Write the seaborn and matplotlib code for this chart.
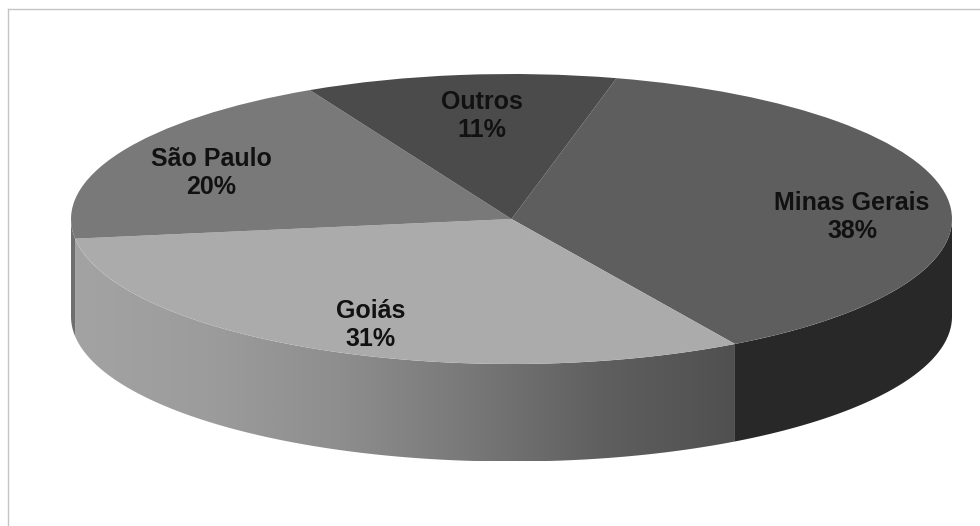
import numpy as np
import matplotlib
matplotlib.use("Agg")
import matplotlib.pyplot as plt
import seaborn as sns
from matplotlib.colors import LinearSegmentedColormap
from matplotlib.patches import Polygon

# Data
categories = ["Minas Gerais", "Goiás", "São Paulo", "Outros"]
shares = [37.7, 31.3, 19.6, 11.4]

# Style
top_colors = ["#5e5e5e", "#ababab", "#797979", "#4b4b4b"]
side_colors = ["#282828", None, "#6e6e6e", None]
front_ramp = ["#a3a3a3", "#9c9c9c", "#8e8e8e", "#787878", "#5f5f5f", "#505050"]
label_px = [(852, 217), (371, 325), (211, 173), (482, 116)]
W, H = 980, 526
CX, CY, RX, RY, DEPTH = 511.5, 219.0, 440.5, 145.0, 97.5
FRAME_X, FRAME_Y = 8.0, 9.0
START_FROM_TOP = 13.8

sns.set_theme(style="white")
plt.rcParams["font.family"] = ["Liberation Sans", "DejaVu Sans"]

fig = plt.figure(figsize=(W / 100, H / 100), dpi=100, facecolor="white")
ax = fig.add_axes([FRAME_X / W, 0, 1 - FRAME_X / W, 1 - FRAME_Y / H])

# Top surface
ax.pie(shares, colors=top_colors, startangle=90 - START_FROM_TOP,
       counterclock=False, radius=1, wedgeprops={"linewidth": 0})
ax.set_aspect("auto")
ax.set_frame_on(True)

depth = DEPTH / RY
edges = START_FROM_TOP + np.concatenate([[0], np.cumsum(shares)]) * 3.6


def wall(a, b):
    """Outline of the visible rim between two clockwise-from-top angles."""
    a, b = max(a, 90.0), min(b, 270.0)
    t = np.radians(np.linspace(a, b, 200))
    x, y = np.sin(t), np.cos(t)
    return np.column_stack([np.r_[x, x[::-1]], np.r_[y, y[::-1] - depth]])


cmap = LinearSegmentedColormap.from_list("front", front_ramp)
for i, cat in enumerate(categories):
    a, b = edges[i], edges[i + 1]
    if min(b, 270) <= max(a, 90):
        continue
    xy = wall(a, b)
    if side_colors[i] is not None:
        ax.add_patch(Polygon(xy, closed=True, facecolor=side_colors[i],
                             edgecolor="none", zorder=0.5))
    else:
        im = ax.imshow(np.linspace(0, 1, 256)[None, :], cmap=cmap, aspect="auto",
                       extent=(xy[:, 0].min(), xy[:, 0].max(), xy[:, 1].min(), xy[:, 1].max()),
                       zorder=0.4)
        im.set_clip_path(Polygon(xy, closed=True, transform=ax.transData))

ax.set_xlim((FRAME_X - CX) / RX, (W - CX) / RX)
ax.set_ylim((CY - H) / RY, (CY - FRAME_Y) / RY)

# Labels
for cat, share, (px, py) in zip(categories, shares, label_px):
    ax.text((px - CX) / RX, (CY - py) / RY, f"{cat}\n{share:.0f}%", ha="center", va="center",
            fontsize=18, fontweight="bold", color="#111111", linespacing=1.16, zorder=5)

# Frame: only the left and top edges show
sns.despine(ax=ax, left=False, top=False, right=True, bottom=True)
for side in ("left", "top"):
    ax.spines[side].set_color("#c4c4c4")
    ax.spines[side].set_linewidth(1.0)

fig.savefig("out.png", dpi=100, facecolor="white")
